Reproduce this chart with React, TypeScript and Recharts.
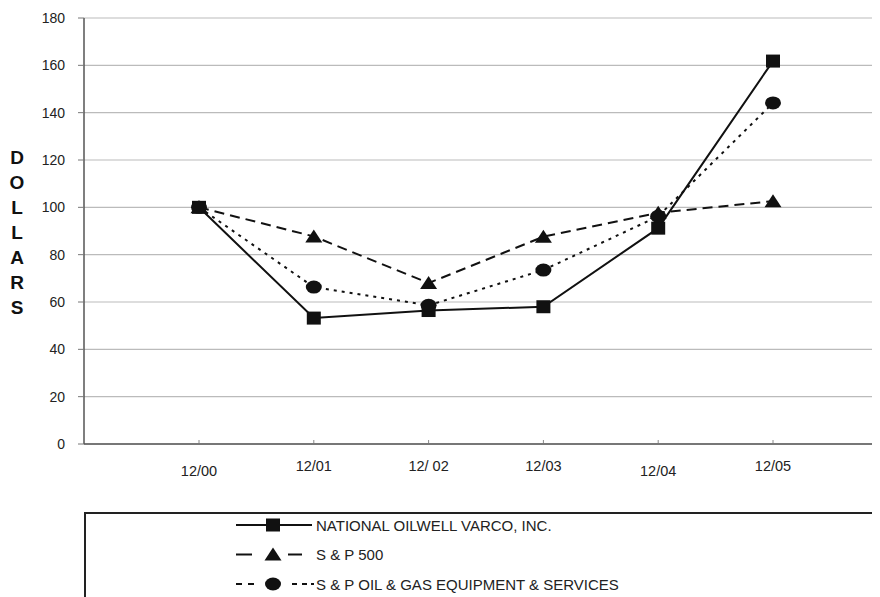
import React from "react";
import { LineChart, Line, XAxis, YAxis, CartesianGrid } from "recharts";

const categories = ["12/00", "12/01", "12/ 02", "12/03", "12/04", "12/05"];
const novValues = [100, 53.2, 56.4, 58.0, 91.2, 161.8];
const sp500Values = [100, 87.7, 68.0, 87.6, 97.7, 102.6];
const oilGasValues = [100, 66.3, 58.6, 73.5, 96.2, 144.1];
const yTicks = [0, 20, 40, 60, 80, 100, 120, 140, 160, 180];
const yAxisTitle = "DOLLARS";
const loweredTickIndexes = [0, 4];

const seriesList = [
  { key: "nov", name: "NATIONAL OILWELL VARCO, INC.", values: novValues, dash: undefined, marker: "square" },
  { key: "sp500", name: "S & P 500", values: sp500Values, dash: "10 6", marker: "triangle" },
  { key: "oilgas", name: "S & P OIL & GAS EQUIPMENT & SERVICES", values: oilGasValues, dash: "3 5", marker: "circle" },
];

const data = categories.map((c, i) => {
  const row: any = { cat: c };
  seriesList.forEach((s) => (row[s.key] = s.values[i]));
  return row;
});

const FONT = "'Liberation Sans', Arial, Helvetica, sans-serif";
const INK = "#111";

// legend sample line segments (x ranges inside the legend box)
const legendSegments: Record<string, number[][]> = {
  square: [[152, 228]],
  triangle: [[152, 168], [204, 218]],
  circle: [[152, 158], [164, 170], [208, 213], [218, 223], [227, 230]],
};

function Marker({ type, cx, cy }: { type: string; cx: number; cy: number }) {
  if (type === "square") {
    return <rect x={cx - 7} y={cy - 6.5} width={14} height={13} fill={INK} />;
  }
  if (type === "triangle") {
    return <polygon points={`${cx},${cy - 7} ${cx + 8.5},${cy + 6} ${cx - 8.5},${cy + 6}`} fill={INK} />;
  }
  return <ellipse cx={cx} cy={cy} rx={8} ry={6.5} fill={INK} />;
}

const makeDot = (type: string) => (props: any) => {
  const { cx, cy, index } = props;
  if (cx == null || cy == null) return <g key={index} />;
  return <Marker key={index} type={type} cx={cx} cy={cy} />;
};

const XTick = (props: any) => {
  const { x, y, payload, index } = props;
  const lowered = loweredTickIndexes.includes(index);
  return (
    <g>
      <line x1={x} x2={x} y1={y - 1} y2={y - 4} stroke="#888" strokeWidth={1} />
      <text
        x={x}
        y={y + (lowered ? 32 : 27)}
        textAnchor="middle"
        fontFamily={FONT}
        fontSize={14.5}
        fill="#222"
      >
        {payload.value}
      </text>
    </g>
  );
};

const YTitle = () => (
  <text fontFamily={FONT} fontSize={19} fontWeight="bold" fill={INK} textAnchor="middle">
    {yAxisTitle.split("").map((ch, i) => (
      <tspan key={i} x={9} y={156 + i * 25}>
        {ch}
      </tspan>
    ))}
  </text>
);

function LegendBox() {
  return (
    <svg
      width={820}
      height={100}
      style={{ position: "absolute", left: 76, top: 504 }}
    >
      <line x1={0} x2={820} y1={1} y2={1} stroke="#222" strokeWidth={2} />
      <line x1={1} x2={1} y1={0} y2={100} stroke="#222" strokeWidth={2} />
      {seriesList.map((s, i) => {
        const cy = 13 + i * 29.5;
        return (
          <g key={s.key}>
            {legendSegments[s.marker].map(([a, b], j) => (
              <line key={j} x1={a} x2={b} y1={cy} y2={cy} stroke={INK} strokeWidth={2} />
            ))}
            <Marker type={s.marker} cx={189} cy={cy} />
            <text x={232} y={cy + 5.5} fontFamily={FONT} fontSize={15} fill="#222">
              {s.name}
            </text>
          </g>
        );
      })}
    </svg>
  );
}

export default function App() {
  return (
    <div style={{ position: "relative", width: 872, height: 589, overflow: "hidden", background: "#fff" }}>
      <LineChart
        width={880}
        height={500}
        data={data}
        margin={{ top: 10, right: 0, bottom: 34, left: 0 }}
      >
        <CartesianGrid vertical={false} stroke="#bbb" strokeWidth={1.2} />
        <XAxis
          dataKey="cat"
          height={30}
          padding={{ left: 115, right: 115 }}
          tickLine={false}
          tickSize={0}
          tickMargin={0}
          tick={<XTick />}
          axisLine={{ stroke: "#555", strokeWidth: 1.5 }}
          interval={0}
        />
        <YAxis
          width={76}
          domain={[0, 180]}
          ticks={yTicks}
          tickSize={6}
          tickMargin={13}
          tickLine={{ stroke: "#777" }}
          axisLine={{ stroke: "#555", strokeWidth: 1.5 }}
          tick={{ fontFamily: FONT, fontSize: 14, fill: "#222" }}
          label={<YTitle />}
        />
        {seriesList.map((s) => (
          <Line
            key={s.key}
            dataKey={s.key}
            name={s.name}
            type="linear"
            stroke={INK}
            strokeWidth={2}
            strokeDasharray={s.dash}
            dot={makeDot(s.marker)}
            activeDot={false}
            isAnimationActive={false}
          />
        ))}
      </LineChart>
      <LegendBox />
    </div>
  );
}
